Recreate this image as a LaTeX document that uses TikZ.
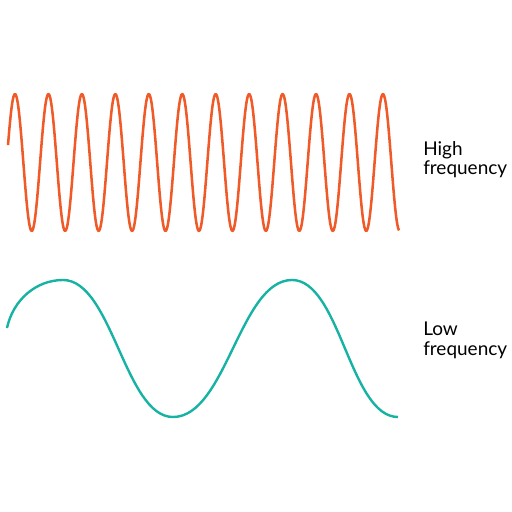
\documentclass[tikz,border=0pt]{standalone}
\usepackage{fontspec}
\setmainfont{Lato}
\usepackage{tikz}
\usetikzlibrary{positioning}
\definecolor{hfcol}{RGB}{240,90,40}
\definecolor{lfcol}{RGB}{22,178,163}
\tikzset{
  hwave/.style={line width=1.8pt,hfcol,line join=round},
  lwave/.style={line width=1.7pt,lfcol},
  wlbl/.style={font=\fontsize{13.5}{13.8}\selectfont,align=left,anchor=north west,inner sep=0pt},
}

\begin{document}
\begin{tikzpicture}[x=0.025cm,y=-0.025cm]
  \useasboundingbox (0,0) rectangle (512,512);
  % high frequency (period 33.45 px -> 10.7623 deg per px)
  \draw[hwave] plot[domain=8:399,samples=500,smooth] (\x,{162.5-68.5*cos((\x-15)*10.7623)});
  \node[wlbl] (hflbl) at (423,141) {High\\frequency};
  % low frequency
  \draw[lwave] (7,328) .. controls (13,300) and (36,280) .. (63,280)
    .. controls (112,280) and (125,417) .. (173,417)
    .. controls (226,417) and (240,280) .. (292,280)
    .. controls (340,280) and (350,417) .. (398,417);
  \node[wlbl] (lflbl) at (423,322) {Low\\frequency};
\end{tikzpicture}
\end{document}
